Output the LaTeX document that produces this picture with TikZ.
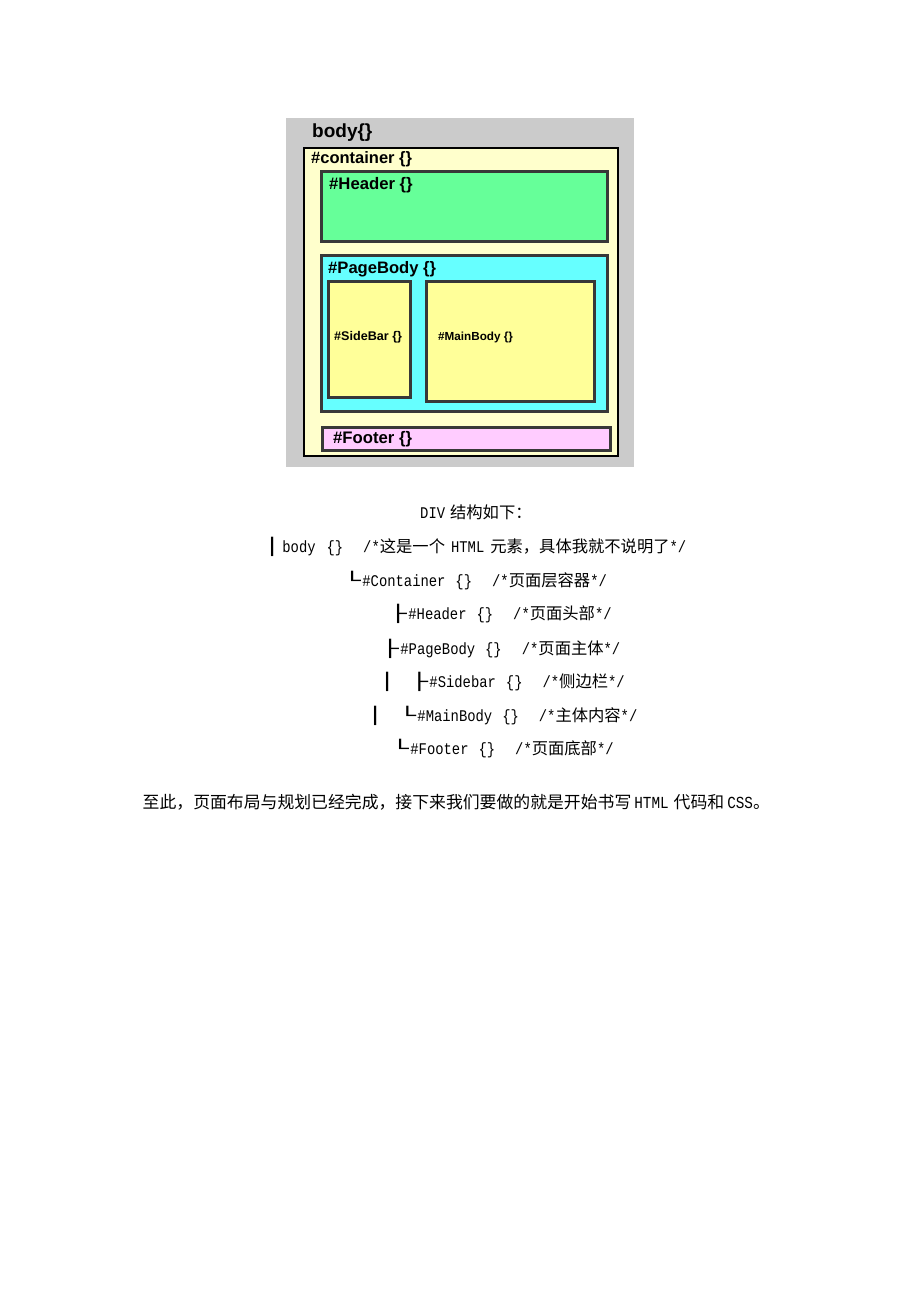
\documentclass[tikz,border=0pt]{standalone}
\usepackage{fontspec}
\setmainfont{Liberation Sans}
\newfontfamily\cjk{Noto Sans CJK SC}
\newfontfamily\latf[FakeStretch=0.85]{Liberation Mono}
\newfontfamily\boxf[FakeStretch=1.75]{DejaVu Sans Mono}
\newfontfamily\diag{Liberation Sans}
\newcommand\mylat[1]{{\latf #1}}
\newcommand\bx[1]{{\boxf #1}\hspace{1.5pt}}
\definecolor{bgray}{HTML}{CBCBCB}
\definecolor{contY}{HTML}{FFFFCC}
\definecolor{hdrG}{HTML}{66FF99}
\definecolor{pgC}{HTML}{66FFFF}
\definecolor{boxY}{HTML}{FFFF99}
\definecolor{ftP}{HTML}{FFCCFF}
\definecolor{edgeG}{HTML}{383838}
\tikzset{
  pane/.style={draw=edgeG, line width=2.6pt},
  lab/.style={font=\diag\bfseries, inner sep=0pt, anchor=base west, text=black},
  txt/.style={font=\cjk\fontsize{16.3}{19}\selectfont, inner sep=0pt, anchor=base west, text=black},
  txtbig/.style={font=\cjk\fontsize{16.85}{20}\selectfont, inner sep=0pt, anchor=base west, text=black}
}
\begin{document}
\begin{tikzpicture}[x=1pt,y=-1pt]
\useasboundingbox (0,0) rectangle (920,1302);
\fill[white] (0,0) rectangle (920,1302);
% diagram
\fill[bgray] (286,118) rectangle (634,467);
\draw[fill=contY, draw=black, line width=2.4pt] (304.2,147.7) rectangle (617.8,455.8);
\draw[pane, fill=hdrG] (321.3,171.3) rectangle (607.7,241.7);
\draw[pane, fill=pgC] (321.3,255.3) rectangle (607.7,411.7);
\draw[pane, fill=boxY] (328.3,281.3) rectangle (410.7,397.7);
\draw[pane, fill=boxY] (426.3,281.3) rectangle (594.7,401.7);
\draw[pane, fill=ftP] (322.3,427.3) rectangle (610.7,450.7);
\node[lab, font=\diag\bfseries\fontsize{19}{22}\selectfont] (bodyl) at (312,137) {body\{\}};
\node[lab, font=\diag\bfseries\fontsize{16.5}{19}\selectfont] (contl) at (311,163.5) {\#container \{\}};
\node[lab, font=\diag\bfseries\fontsize{16.7}{19}\selectfont] (hdrl) at (329,189) {\#Header \{\}};
\node[lab, font=\diag\bfseries\fontsize{16.6}{19}\selectfont] (pgl) at (328,273.5) {\#PageBody \{\}};
\node[lab, font=\diag\bfseries\fontsize{12.6}{15}\selectfont] (sbl) at (334,340.5) {\#SideBar \{\}};
\node[lab, font=\diag\bfseries\fontsize{11.7}{14}\selectfont] (mbl) at (438,340.5) {\#MainBody \{\}};
\node[lab, font=\diag\bfseries\fontsize{16.7}{19}\selectfont] (ftl) at (333,443.5) {\#Footer \{\}};
% structure text
\node[txt] (t1) at (420,518.5) {\mylat{DIV}\hspace{5pt}结构如下：};
\node[txt] (t2) at (263.5,552.5) {\bx{│}\mylat{body}\hspace{11pt}\mylat{\{\}}\hspace{20pt}\mylat{/*}这是一个\hspace{6pt}\mylat{HTML}\hspace{6pt}元素，具体我就不说明了\mylat{*/}};
\node[txt] (t3) at (343.5,586) {\bx{└}\mylat{\#Container}\hspace{10pt}\mylat{\{\}}\hspace{20pt}\mylat{/*}页面层容器\mylat{*/}};
\node[txt] (t4) at (389.5,619.5) {\bx{├}\mylat{\#Header}\hspace{10pt}\mylat{\{\}}\hspace{20pt}\mylat{/*}页面头部\mylat{*/}};
\node[txt] (t5) at (381.5,654) {\bx{├}\mylat{\#PageBody}\hspace{10pt}\mylat{\{\}}\hspace{20pt}\mylat{/*}页面主体\mylat{*/}};
\node[txt] (t6) at (378.5,687) {\bx{│}\hspace{13.4pt}\bx{├}\mylat{\#Sidebar}\hspace{10pt}\mylat{\{\}}\hspace{20pt}\mylat{/*}侧边栏\mylat{*/}};
\node[txt] (t7) at (366.5,721) {\bx{│}\hspace{13.4pt}\bx{└}\mylat{\#MainBody}\hspace{10pt}\mylat{\{\}}\hspace{20pt}\mylat{/*}主体内容\mylat{*/}};
\node[txt] (t8) at (391.5,754.5) {\bx{└}\mylat{\#Footer}\hspace{10pt}\mylat{\{\}}\hspace{20pt}\mylat{/*}页面底部\mylat{*/}};
\node[txtbig] (t9) at (142.5,808) {至此，页面布局与规划已经完成，接下来我们要做的就是开始书写\hspace{3pt}\mylat{HTML}\hspace{5pt}代码和\hspace{3pt}\mylat{CSS}。};
\end{tikzpicture}
\end{document}
